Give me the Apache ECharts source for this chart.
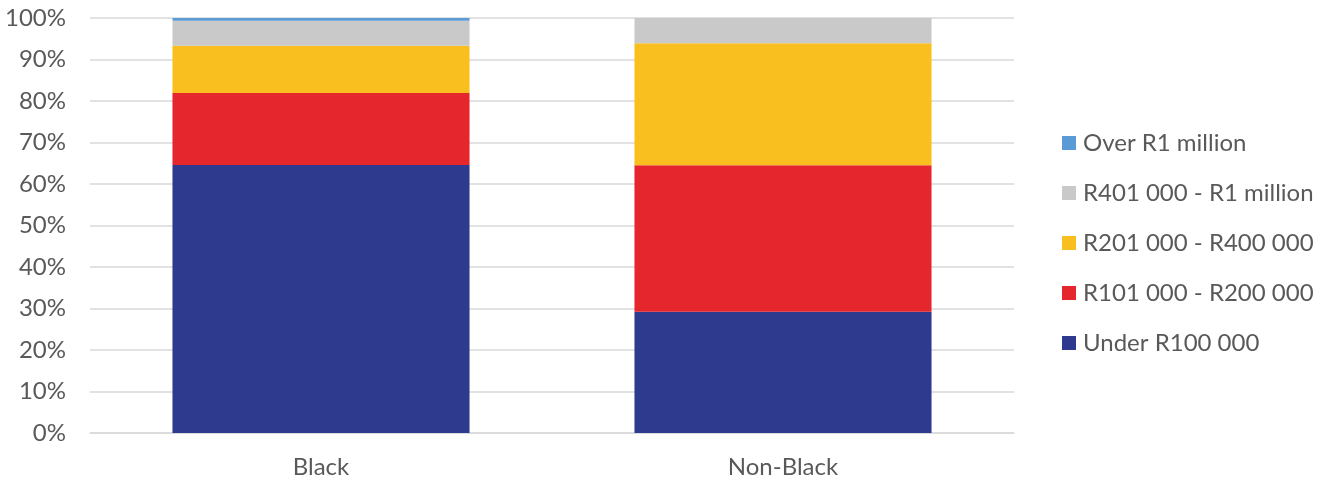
<!DOCTYPE html>
<html><head><meta charset="utf-8">
<script src="https://cdn.jsdelivr.net/npm/echarts@6/dist/echarts.min.js"></script>
<style>html,body{margin:0;padding:0;background:#fff}#c{width:1331px;height:484px}</style>
</head><body><div id="c"></div>
<script>
const categories = ['Black', 'Non-Black'];
const seriesNames = ['Under R100 000', 'R101 000 - R200 000', 'R201 000 - R400 000', 'R401 000 - R1 million', 'Over R1 million'];
const under100k = [64.6, 29.2];
const r101to200k = [17.3, 35.3];
const r201to400k = [11.4, 29.4];
const r401to1m = [6.05, 6.1];
const over1m = [0.65, 0];
const yTicks = [0, 10, 20, 30, 40, 50, 60, 70, 80, 90, 100];
const colors = ['#2E3A8E', '#E5272D', '#F8BF1F', '#C9C9C9', '#5B9BD5'];
const values = [under100k, r101to200k, r201to400k, r401to1m, over1m];

const chart = echarts.init(document.getElementById('c'));
const font = 'Lato, "Open Sans", sans-serif';
chart.setOption({
  animation: false,
  grid: { left: 90, right: 317, top: 18, bottom: 51 },
  legend: {
    orient: 'vertical', left: 1057, top: 126,
    itemWidth: 14, itemHeight: 14, itemGap: 26,
    icon: 'rect',
    data: seriesNames.slice().reverse(),
    textStyle: { fontFamily: font, fontSize: 24, color: '#595959', lineHeight: 24, padding: [0, 0, 0, 2] }
  },
  xAxis: {
    type: 'category', data: categories,
    axisLine: { show: true, lineStyle: { color: '#d9d9d9', width: 1.5 } },
    axisTick: { show: false },
    axisLabel: { fontFamily: font, fontSize: 24, color: '#595959', margin: 22 }
  },
  yAxis: {
    type: 'value', min: yTicks[0], max: yTicks[yTicks.length - 1], interval: 10,
    axisLine: { show: false }, axisTick: { show: false },
    splitLine: { lineStyle: { color: '#d9d9d9', width: 1.5 } },
    axisLabel: { fontFamily: font, fontSize: 24, color: '#595959', margin: 24, formatter: v => v + '%' }
  },
  series: seriesNames.map((n, i) => ({
    name: n, type: 'bar', stack: 'total', data: values[i],
    barWidth: '64.3%', itemStyle: { color: colors[i] }
  }))
});
</script></body></html>
